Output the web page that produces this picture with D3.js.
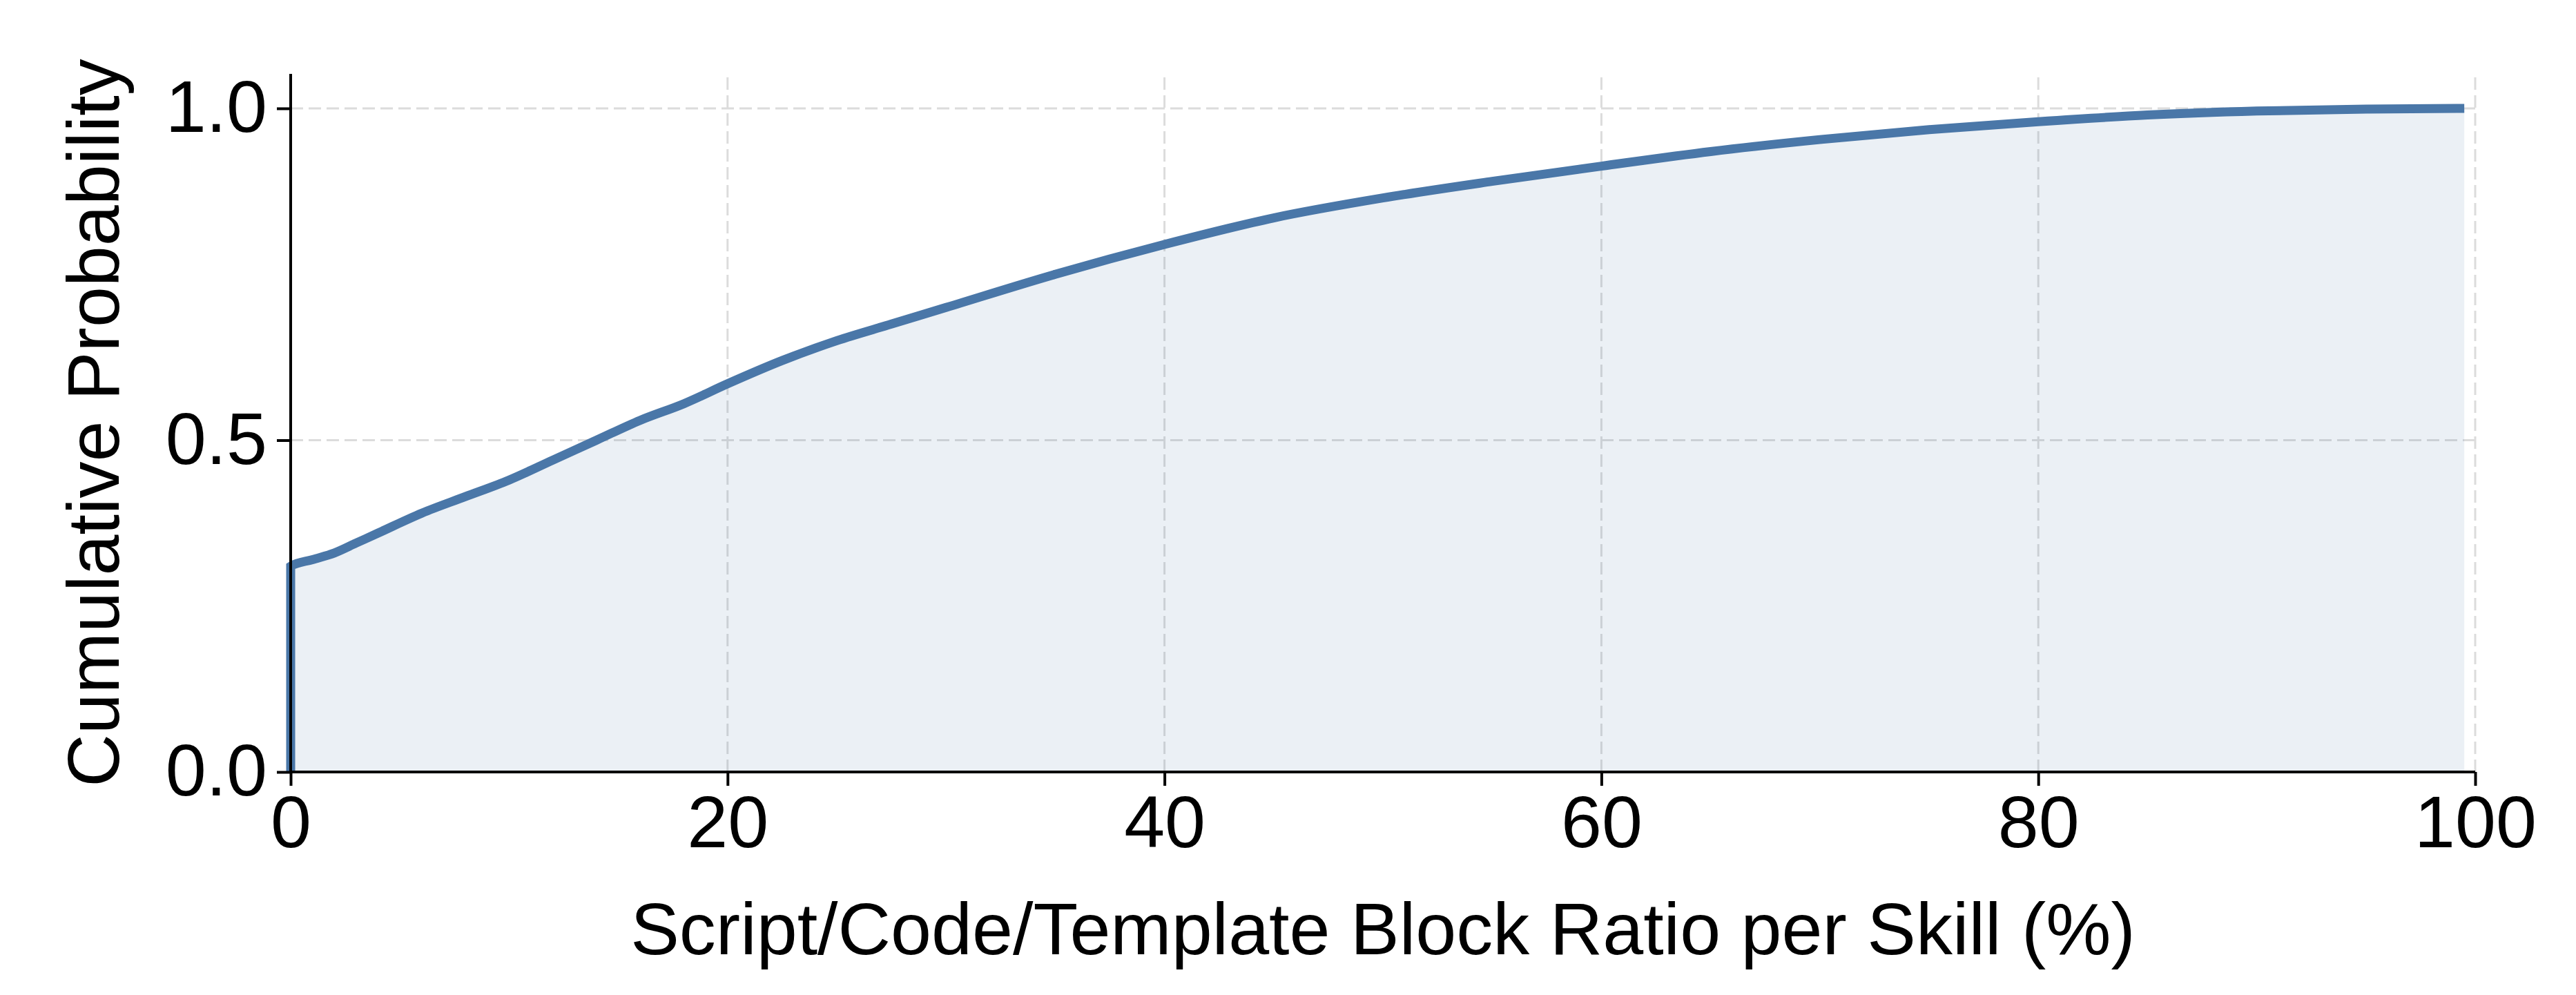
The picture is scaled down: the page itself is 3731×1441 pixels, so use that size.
<!DOCTYPE html>
<html><head><meta charset="utf-8">
<script src="https://cdn.jsdelivr.net/npm/d3@7"></script>
<style>body{margin:0;background:#fff}</style></head>
<body><svg id="c" width="3731" height="1441"></svg>
<script>
const ratio = [0, 0, 1, 2, 3, 4, 6, 8, 10, 12, 14, 16, 18, 20, 22.5, 25, 27.5, 30, 35, 40, 45, 50, 55, 60, 65, 70, 75, 80, 85, 90, 95, 99.5];
const cdf   = [0, 0.31, 0.32, 0.33, 0.345, 0.36, 0.39, 0.415, 0.44, 0.47, 0.50, 0.53, 0.555, 0.585, 0.62, 0.65, 0.675, 0.70, 0.75, 0.795, 0.835, 0.865, 0.89, 0.913, 0.935, 0.953, 0.968, 0.98, 0.99, 0.996, 0.999, 1.0];
const xTicks = [0, 20, 40, 60, 80, 100];
const yTicks = [0, 0.5, 1.0];
const data = ratio.map((r,i)=>({x:r,y:cdf[i]}));

const svg = d3.select("#c");
const L=421,R=3585,T=107,B=1118;
const x = d3.scaleLinear().domain([0,100]).range([L,R]);
const y = d3.scaleLinear().domain([0,1.052]).range([B,T]);
const font = "'Liberation Sans', Arial, sans-serif";

const g = svg.append("g");
g.selectAll(".gx").data(xTicks).enter().append("line")
 .attr("x1",d=>x(d)).attr("x2",d=>x(d)).attr("y1",B).attr("y2",T)
 .attr("stroke","#dcdcdc").attr("stroke-width",3).attr("stroke-dasharray","18,8");
g.selectAll(".gy").data(yTicks).enter().append("line")
 .attr("x1",L).attr("x2",R).attr("y1",d=>y(d)).attr("y2",d=>y(d))
 .attr("stroke","#dcdcdc").attr("stroke-width",3).attr("stroke-dasharray","18,8");

svg.append("path").datum(data)
 .attr("d",d3.area().x(d=>x(d.x)).y0(y(0)).y1(d=>y(d.y)).curve(d3.curveMonotoneX))
 .attr("fill","#4c78a8").attr("fill-opacity",0.11);
svg.append("path").datum(data)
 .attr("d",d3.line().x(d=>x(d.x)).y(d=>y(d.y)).curve(d3.curveMonotoneX))
 .attr("fill","none").attr("stroke","#4a77a8").attr("stroke-width",13);

const xa = svg.append("g").attr("transform",`translate(0,${B})`)
 .call(d3.axisBottom(x).tickValues(xTicks).tickSize(20).tickPadding(14).tickFormat(d3.format("d")));
const ya = svg.append("g").attr("transform",`translate(${L},0)`)
 .call(d3.axisLeft(y).tickValues(yTicks).tickSize(20).tickPadding(14).tickFormat(d3.format(".1f")));
[xa,ya].forEach(a=>{
  a.selectAll("path,line").attr("stroke","#000").attr("stroke-width",4);
  a.selectAll("text").attr("font-family",font).attr("font-size",106).attr("fill","#000");
});
xa.select(".domain").attr("d",`M0,0H${R-L}`).attr("transform",`translate(${L},0)`);
ya.select(".domain").attr("d",`M0,${T}V${B}`);

svg.append("text").attr("x",(L+R)/2).attr("y",1382).attr("text-anchor","middle")
 .attr("font-family",font).attr("font-size",106).text("Script/Code/Template Block Ratio per Skill (%)");
svg.append("text").attr("transform",`translate(135,${(T+B)/2}) rotate(-90)`).attr("text-anchor","middle")
 .attr("dy","0.35em").attr("font-family",font).attr("font-size",106).text("Cumulative Probability");
</script></body></html>
